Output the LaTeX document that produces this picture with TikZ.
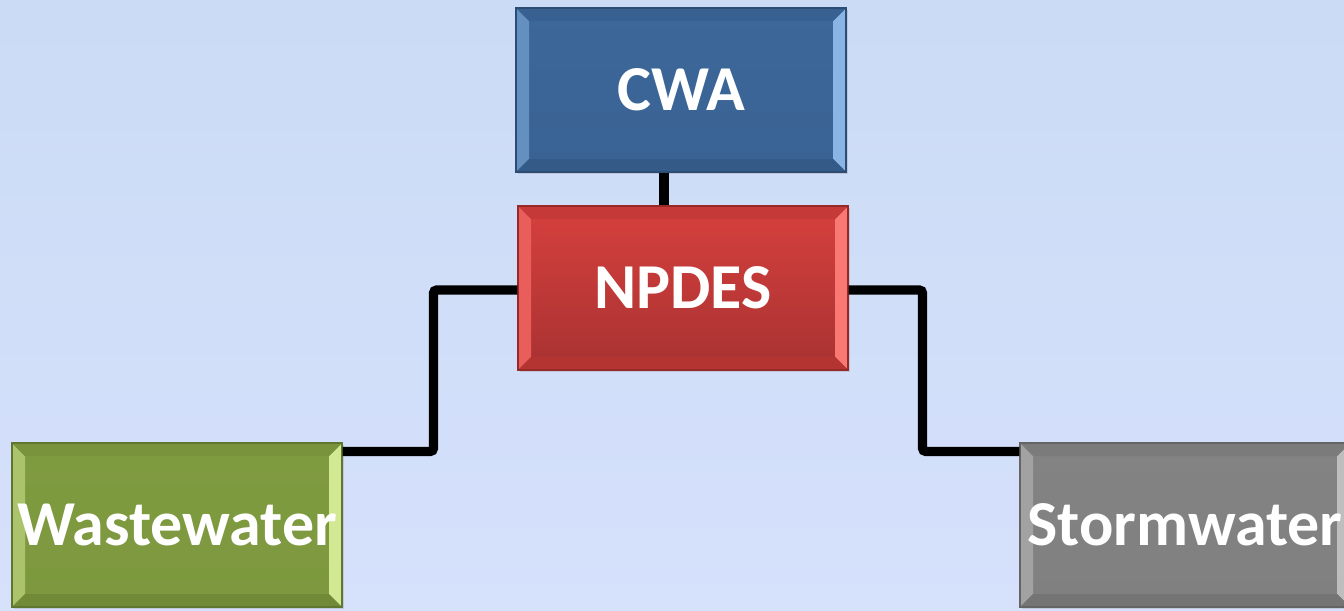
\documentclass[tikz,border=0pt]{standalone}
\usepackage{fontspec}
\setmainfont{Carlito}
\usetikzlibrary{shadows}

\definecolor{bgtop}{RGB}{203,219,245}
\definecolor{bgbot}{RGB}{214,225,252}
\definecolor{cwaface}{RGB}{60,103,152}
\definecolor{cwaface2}{RGB}{58,99,148}
\definecolor{cwalight}{RGB}{150,195,240}
\definecolor{cwadark}{RGB}{52,90,136}
\definecolor{cwaedge}{RGB}{44,76,116}
\definecolor{npdesface}{RGB}{214,64,61}
\definecolor{npdesface2}{RGB}{168,50,50}
\definecolor{npdeslight}{RGB}{255,130,125}
\definecolor{npdesdark}{RGB}{180,52,50}
\definecolor{npdesedge}{RGB}{150,40,40}
\definecolor{wwface}{RGB}{127,155,64}
\definecolor{wwface2}{RGB}{125,152,62}
\definecolor{wwlight}{RGB}{225,245,160}
\definecolor{wwdark}{RGB}{112,138,56}
\definecolor{wwedge}{RGB}{96,118,48}
\definecolor{swface}{RGB}{131,131,131}
\definecolor{swface2}{RGB}{128,128,128}
\definecolor{swlight}{RGB}{200,200,200}
\definecolor{swdark}{RGB}{116,116,116}
\definecolor{swedge}{RGB}{100,100,100}

\tikzset{
  panel/.style={
    draw=#1edge, line width=0.8pt,
    top color=#1face, bottom color=#1face2,
    minimum width=247.5pt, minimum height=123pt, inner sep=0pt,
    text=white, font=\fontsize{48}{58}\selectfont\bfseries,
    drop shadow={opacity=0.25,shadow xshift=1.5pt,shadow yshift=-1.5pt},
    path picture={
      \fill[#1light!45!#1face]
        (path picture bounding box.south west) -- (path picture bounding box.north west)
        -- ([shift={(9.75pt,-9.75pt)}]path picture bounding box.north west)
        -- ([shift={(9.75pt,9.75pt)}]path picture bounding box.south west) -- cycle;
      \fill[#1light!85!#1face]
        (path picture bounding box.south east) -- (path picture bounding box.north east)
        -- ([shift={(-9.75pt,-9.75pt)}]path picture bounding box.north east)
        -- ([shift={(-9.75pt,9.75pt)}]path picture bounding box.south east) -- cycle;
      \fill[#1dark!50!#1face]
        (path picture bounding box.north west) -- (path picture bounding box.north east)
        -- ([shift={(-9.75pt,-9.75pt)}]path picture bounding box.north east)
        -- ([shift={(9.75pt,-9.75pt)}]path picture bounding box.north west) -- cycle;
      \fill[#1dark]
        (path picture bounding box.south west) -- (path picture bounding box.south east)
        -- ([shift={(-9.75pt,9.75pt)}]path picture bounding box.south east)
        -- ([shift={(9.75pt,9.75pt)}]path picture bounding box.south west) -- cycle;
    }
  },
  link/.style={line width=7pt, black, rounded corners=2.5pt}
}

\begin{document}
\begin{tikzpicture}[x=0.75pt,y=-0.75pt]
  \shade[top color=bgtop,bottom color=bgbot] (0,0) rectangle (1344,610);
  \useasboundingbox (0,0) rectangle (1344,610);

  % boxes
  \node[panel=cwa]   (cwa)   at (681,90)   {CWA};
  \node[panel=npdes] (npdes) at (683,288)  {NPDES};
  \node[panel=ww]    (ww)    at (177,525)  {Wastewater};
  \node[panel=sw]    (sw)    at (1185,525) {Stormwater};

  % connectors
  \draw[link] ([xshift=-12.75pt]cwa.south) -- ([xshift=-12.75pt]cwa.south |- npdes.north);
  \draw[link] ([yshift=-1.5pt]npdes.west) -- ++(-84,0) |- ([yshift=-6.75pt]ww.north east);
  \draw[link] ([yshift=-1.5pt]npdes.east) -- ++(74,0) |- ([yshift=-6.75pt]sw.north west);
\end{tikzpicture}
\end{document}
